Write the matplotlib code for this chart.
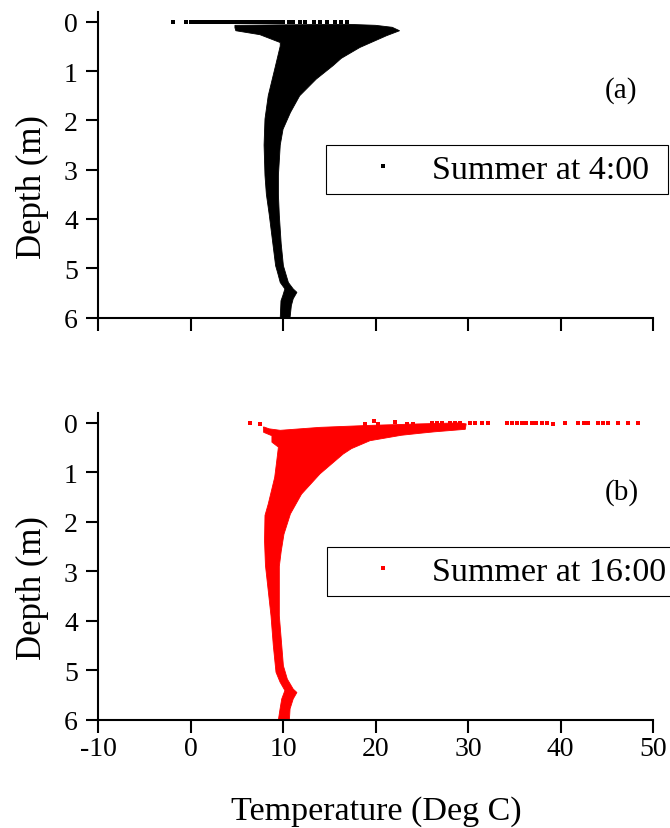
import matplotlib.pyplot as plt
from matplotlib.patches import Rectangle

# Ground temperature profiles in summer: each body is the envelope of all
# simulated profiles (cold edge / warm edge), plus the scattered readings
# right at the surface.

# (a) summer at 4:00
a_left_depth = [0.12, 0.18, 0.26, 0.42, 0.49, 0.96, 1.50, 1.97, 2.50, 3.12,
                3.50, 3.90, 4.50, 4.95, 5.08, 5.29, 5.42, 5.56, 5.66, 6.00]
a_left_temp = [4.8, 4.9, 7.5, 9.7, 9.7, 9.1, 8.4, 8.05, 7.95, 8.05,
               8.2, 8.5, 8.9, 9.2, 9.4, 9.7, 10.2, 9.97, 9.78, 9.7]
a_right_depth = [0.07, 0.06, 0.05, 0.07, 0.11, 0.18, 0.28, 0.52, 0.74, 0.89,
                 1.16, 1.50, 1.84, 2.18, 2.50, 3.12, 3.50, 3.93, 4.50, 4.95,
                 5.29, 5.42, 5.49, 5.62, 5.76, 6.00]
a_right_temp = [4.8, 10.0, 17.0, 20.0, 21.8, 22.6, 21.2, 18.3, 16.3, 15.4,
                13.6, 11.8, 10.8, 10.0, 9.7, 9.5, 9.5, 9.6, 9.8, 10.04,
                10.58, 11.1, 11.5, 11.1, 10.9, 10.76]
a_surface_temp = [-1.9, -0.5, 0.1, 0.5, 0.9, 1.2, 1.5, 1.8, 2.1, 2.4, 2.7,
                  3.0, 3.4, 3.7, 4.0, 4.3, 4.6, 4.9, 5.2, 5.5, 5.8, 6.1, 6.4,
                  6.7, 7.0, 7.3, 7.6, 7.9, 8.2, 8.5, 8.8, 9.1, 9.4, 9.7,
                  10.0, 10.6, 11.1, 11.8, 12.4, 13.3, 14.0, 14.7, 15.6, 16.3,
                  16.9]
a_surface_depth = 0.01

# (b) summer at 16:00
b_left_depth = [0.09, 0.19, 0.26, 0.39, 0.49, 0.80, 1.10, 1.64, 1.87, 2.38,
                2.88, 3.90, 4.50, 5.04, 5.24, 5.41, 5.58, 5.78, 6.00]
b_left_temp = [7.9, 7.9, 8.8, 8.8, 9.5, 9.3, 9.1, 8.4, 8.05, 8.0,
               8.1, 8.7, 8.95, 9.24, 9.68, 10.2, 9.86, 9.68, 9.5]
b_right_depth = [0.08, 0.12, 0.15, 0.09, 0.05, 0.02, 0.00, 0.02, 0.13, 0.18,
                 0.21, 0.25, 0.36, 0.52, 0.63, 1.03, 1.44, 1.84, 2.25, 2.60,
                 2.90, 3.90, 4.91, 5.18, 5.38, 5.45, 5.58, 5.78, 6.00]
b_right_temp = [7.9, 8.5, 9.7, 14.0, 19.4, 24.8, 29.0, 29.8, 29.7, 26.4,
                24.8, 22.8, 19.4, 17.4, 16.5, 14.0, 12.0, 10.8, 10.1, 9.8,
                9.6, 9.6, 10.04, 10.47, 11.1, 11.5, 11.1, 10.76, 10.69]
b_surface_temp = [6.4, 7.5, 18.9, 19.8, 20.3, 22.1, 23.4, 24.1, 26.1, 26.6,
                  27.2, 28.05, 28.6, 29.1, 30.2, 30.8, 31.5, 32.2, 34.2, 34.7,
                  35.3, 35.8, 36.3, 36.9, 37.4, 38.0, 38.5, 39.2, 40.5, 41.9,
                  42.5, 43.0, 44.1, 44.6, 45.1, 46.2, 47.3, 48.4]
b_surface_depth = [0.00, 0.03, 0.02, -0.03, 0.03, -0.01, 0.03, 0.03, 0.01,
                   0.01, 0.01, 0.01, 0.01, 0.01, 0.0, 0.01, 0.0, 0.01, 0.01,
                   0.01, 0.0, 0.01, 0.01, 0.01, 0.0, 0.01, 0.01, 0.02, 0.01,
                   0.01, 0.0, 0.01, 0.01, 0.0, 0.01, 0.01, 0.01, 0.01]

temp_ticks = [-10, 0, 10, 20, 30, 40, 50]
depth_ticks = [0, 1, 2, 3, 4, 5, 6]

plt.rcParams['font.family'] = ['Liberation Serif', 'DejaVu Serif']
plt.rcParams['axes.unicode_minus'] = False


def plot_profile(ax, left_depth, left_temp, right_depth, right_temp,
                 surface_temp, surface_depth, color, label, tag, show_xlabels):
    """
    Draw one panel of summer temperature profiles

    Parameters
    ----------
    ax : matplotlib.axes.Axes
        The axes to draw into

    left_depth, left_temp : list of float
        The cold edge of the profile envelope, from top to bottom

    right_depth, right_temp : list of float
        The warm edge of the envelope (top edge first), from top to bottom

    surface_temp : list of float
        Scattered temperatures right at the ground surface

    surface_depth : float or list of float
        Depths of the surface readings
    """
    outline_temp = list(left_temp) + list(right_temp[::-1])
    outline_depth = list(left_depth) + list(right_depth[::-1])
    ax.fill(outline_temp, outline_depth, color=color, lw=0.6)

    if not isinstance(surface_depth, list):
        surface_depth = [surface_depth] * len(surface_temp)
    ax.plot(surface_temp, surface_depth, 's', color=color, ms=3.0, mew=0,
            label=label)

    ax.set_xlim(-10, 50)
    ax.set_ylim(6, -0.2)
    ax.set_xticks(temp_ticks)
    ax.set_yticks(depth_ticks)
    if not show_xlabels:
        ax.set_xticklabels([])
    for side in ['top', 'right']:
        ax.spines[side].set_visible(False)
    for side in ['left', 'bottom']:
        ax.spines[side].set_linewidth(1.5)
    ax.tick_params(direction='out', length=9, width=1.5, labelsize=20)
    ax.tick_params(axis='y', pad=5.5)
    ax.tick_params(axis='x', pad=2.5)

    ax.text(0.943, 0.745, tag, transform=ax.transAxes, fontsize=21,
            ha='center', va='center')


fig = plt.figure(figsize=(6.7, 8.29), dpi=100)
ax_a = fig.add_axes([0.1463, 0.6158, 0.8284, 0.3685])
ax_b = fig.add_axes([0.1463, 0.1306, 0.8284, 0.3700])

plot_profile(ax_a, a_left_depth, a_left_temp, a_right_depth, a_right_temp,
             a_surface_temp, a_surface_depth, 'black', 'Summer at 4:00',
             '(a)', False)
plot_profile(ax_b, b_left_depth, b_left_temp, b_right_depth, b_right_temp,
             b_surface_temp, b_surface_depth, '#ff0000', 'Summer at 16:00',
             '(b)', True)

# legends sit in plain boxes that run out past the right edge of the axes
for ax, box_left, box_top, box_right in [(ax_a, 326, 146, 668),
                                         (ax_b, 327, 548, 700)]:
    box_bottom = box_top + 49
    ax.legend(loc='center left', frameon=False, fontsize=24.5,
              bbox_to_anchor=(349 / 670, 1 - (box_top + 24.5) / 829),
              bbox_transform=fig.transFigure, borderpad=0, borderaxespad=0,
              handlelength=2.0, handletextpad=0.44, numpoints=1)
    fig.add_artist(Rectangle((box_left / 670, 1 - box_bottom / 829),
                             (box_right - box_left) / 670, 49 / 829,
                             transform=fig.transFigure, fill=False,
                             lw=0.8, ec='black'))

fig.text(32 / 670, 1 - 186.7 / 829, 'Depth (m)', rotation=90, fontsize=25,
         ha='center', va='center')
fig.text(32 / 670, 1 - 588.3 / 829, 'Depth (m)', rotation=90, fontsize=25,
         ha='center', va='center')
fig.text(376 / 670, 1 - 819.5 / 829, 'Temperature (Deg C)', fontsize=24.5,
         ha='center', va='baseline')

fig.savefig('out.png', dpi=100)
plt.close()
